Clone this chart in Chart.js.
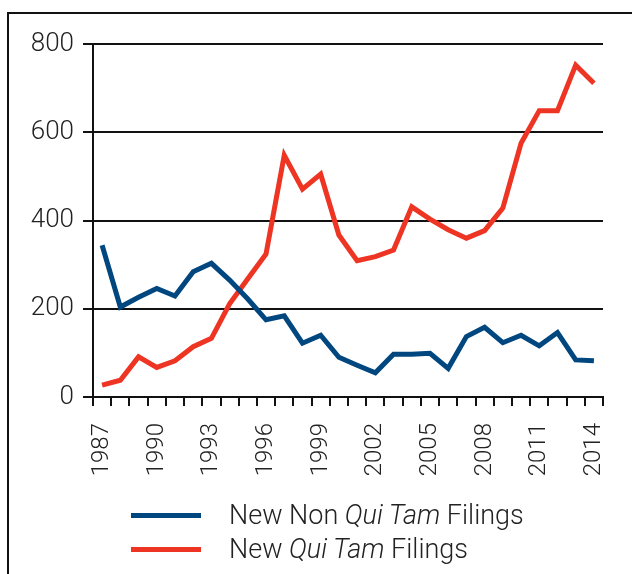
<!DOCTYPE html>
<html>
<head>
<meta charset="utf-8">
<script src="https://cdn.jsdelivr.net/npm/chart.js@4.4.1/dist/chart.umd.min.js"></script>
<style>
  html, body { margin: 0; padding: 0; background: #fff; }
  #wrap { position: relative; width: 632px; height: 574px; overflow: hidden; }
  #frame { position: absolute; left: 7px; top: 12px; width: 700px; height: 700px;
           border-left: 2px solid #111; border-top: 2px solid #111; }
  canvas { position: absolute; left: 0; top: 0; }
  .legend { position: absolute; left: 0; font-family: Roboto, "Liberation Sans", sans-serif;
            font-weight: 300; font-size: 27px; color: #222; }
  .legend .sw { position: absolute; left: 131px; width: 70px; height: 5px; }
  .legend .txt { position: absolute; left: 229px; white-space: nowrap; line-height: 30px; }
</style>
</head>
<body>
<div id="wrap">
  <div id="frame"></div>
  <canvas id="chart" width="632" height="574"></canvas>
  <div class="legend" style="top:500px">
    <div class="sw" style="top:13px;background:#00467f"></div>
    <div class="txt" style="top:0">New Non <i>Qui Tam</i> Filings</div>
  </div>
  <div class="legend" style="top:534px">
    <div class="sw" style="top:13px;background:#ee3524"></div>
    <div class="txt" style="top:0">New <i>Qui Tam</i> Filings</div>
  </div>
</div>
<script>
// years 1987..2014
const years = [];
for (let y = 1987; y <= 2014; y++) years.push(String(y));

const nonQuiTam = [344, 204, 226, 246, 229, 284, 303, 265, 222, 175, 184, 122, 140, 90,
                   72, 55, 97, 97, 99, 65, 137, 158, 123, 140, 116, 146, 84, 82];
const quiTam = [27, 38, 91, 67, 82, 114, 133, 211, 268, 324, 548, 471, 505, 367,
                309, 318, 333, 431, 403, 379, 360, 377, 428, 575, 649, 649, 752, 711];

const yTicks = [0, 200, 400, 600, 800];

const fontFamily = 'Roboto, "Liberation Sans", sans-serif';
const ink = '#111';

new Chart(document.getElementById('chart').getContext('2d'), {
  type: 'line',
  data: {
    labels: years,
    datasets: [
      { label: 'New Non Qui Tam Filings', data: nonQuiTam, borderColor: '#00467f',
        borderWidth: 5, pointRadius: 0, tension: 0, fill: false },
      { label: 'New Qui Tam Filings', data: quiTam, borderColor: '#ee3524',
        borderWidth: 5, pointRadius: 0, tension: 0, fill: false }
    ]
  },
  options: {
    responsive: false,
    animation: false,
    layout: { padding: { top: 44, right: 29, left: 0, bottom: 0 } },
    plugins: { legend: { display: false }, tooltip: { enabled: false } },
    scales: {
      x: {
        offset: true,
        grid: { offset: true, drawOnChartArea: false, drawTicks: true, tickLength: 9,
                color: ink, lineWidth: 2 },
        border: { display: true, color: ink, width: 2 },
        ticks: {
          autoSkip: false, minRotation: 90, maxRotation: 90, padding: 17,
          color: '#222', font: { family: fontFamily, size: 24, weight: 300 },
          callback: function(v, i) { return i % 3 === 0 ? years[i] : ''; }
        },
        afterFit: function(scale) {
          scale.height = 574 - 397;
          scale.paddingLeft = 0;
          scale.paddingRight = 0;
        }
      },
      y: {
        min: 0, max: 800,
        afterBuildTicks: function(scale) { scale.ticks = yTicks.map(v => ({ value: v })); },
        grid: { drawTicks: true, tickLength: 10, color: ink, lineWidth: 2 },
        border: { display: true, color: ink, width: 2 },
        ticks: { padding: 9, color: '#222', font: { family: fontFamily, size: 26, weight: 300 } },
        afterFit: function(scale) { scale.width = 93; }
      }
    }
  }
});
</script>
</body>
</html>
